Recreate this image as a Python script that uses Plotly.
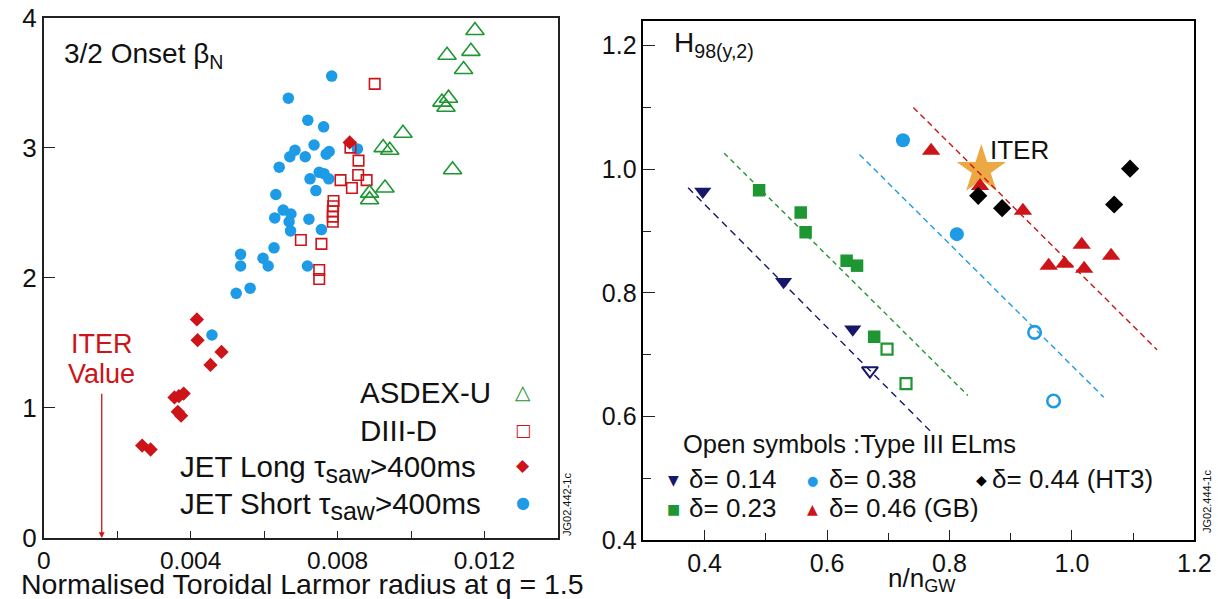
import plotly.graph_objects as go

# ---------------- Left panel data ----------------
jet_short_x = [0.00784, 0.00666, 0.00719, 0.00762, 0.00736, 0.00684, 0.00670, 0.00712, 0.00777,
               0.00769, 0.00854, 0.00641, 0.00750, 0.00763, 0.00725, 0.00776, 0.00741, 0.00632,
               0.00652, 0.00673, 0.00629, 0.00668, 0.00672, 0.00722, 0.00756, 0.00627, 0.00536,
               0.00536, 0.00597, 0.00611, 0.00718, 0.00524, 0.00562, 0.00458]
jet_short_y = [3.55, 3.38, 3.21, 3.16, 3.02, 2.98, 2.93, 2.93, 2.97,
               2.95, 2.99, 2.85, 2.81, 2.80, 2.76, 2.76, 2.67, 2.64,
               2.52, 2.49, 2.46, 2.43, 2.36, 2.45, 2.37, 2.23, 2.18,
               2.09, 2.15, 2.09, 2.09, 1.88, 1.92, 1.56]

diiid_x = [0.00901, 0.00835, 0.00857, 0.00856, 0.00879, 0.00808, 0.00839, 0.00789,
           0.00788, 0.00787, 0.00787, 0.00787, 0.00700, 0.00756, 0.00750, 0.00750]
diiid_y = [3.49, 3.00, 2.90, 2.79, 2.75, 2.75, 2.69, 2.59,
           2.55, 2.51, 2.47, 2.43, 2.29, 2.26, 2.06, 1.99]

asdex_x = [0.01174, 0.01098, 0.01163, 0.01143, 0.01102, 0.01084, 0.01095, 0.00978,
           0.00924, 0.00942, 0.01113, 0.00929, 0.00887, 0.00887]
asdex_y = [3.90, 3.71, 3.74, 3.60, 3.38, 3.35, 3.31, 3.11,
           3.00, 2.98, 2.83, 2.69, 2.65, 2.60]

jet_long_x = [0.00833, 0.00417, 0.00419, 0.00484, 0.00454, 0.00356, 0.00368, 0.00381,
              0.00365, 0.00374, 0.00268, 0.00291]
jet_long_y = [3.04, 1.68, 1.52, 1.43, 1.33, 1.08, 1.09, 1.11,
              0.97, 0.94, 0.71, 0.68]

iter_rho = 0.00158

# ---------------- Right panel data ----------------
d014_x = [0.397, 0.529, 0.642]
d014_y = [0.964, 0.818, 0.741]
d014_open_x = [0.670]
d014_open_y = [0.674]

d023_x = [0.489, 0.557, 0.565, 0.632, 0.649, 0.677]
d023_y = [0.966, 0.930, 0.898, 0.852, 0.844, 0.729]
d023_open_x = [0.698, 0.729]
d023_open_y = [0.709, 0.653]

d038_x = [0.724, 0.812]
d038_y = [1.047, 0.895]
d038_open_x = [0.939, 0.970]
d038_open_y = [0.736, 0.625]

d046_x = [0.770, 0.850, 0.920, 1.016, 1.064, 0.962, 0.988, 1.020]
d046_y = [1.030, 0.973, 0.933, 0.878, 0.860, 0.844, 0.847, 0.839]

d044_x = [0.847, 0.886, 1.069, 1.095]
d044_y = [0.957, 0.937, 0.943, 1.001]

iter_x = [0.852]
iter_y = [0.999]

fit014_x = [0.373, 0.770]
fit014_y = [0.970, 0.575]
fit023_x = [0.432, 0.830]
fit023_y = [1.026, 0.634]
fit038_x = [0.653, 1.052]
fit038_y = [1.024, 0.631]
fit046_x = [0.741, 1.139]
fit046_y = [1.100, 0.708]

# ---------------- Styles ----------------
RED = "#CC1419"
BLUE = "#1E9BE6"
GREEN = "#1E9632"
NAVY = "#16166A"
STAR = "#EBA843"
FONT = "Liberation Sans, Arial, Helvetica, sans-serif"
SYMFONT = "DejaVu Sans, sans-serif"
W, H = 1218, 599


def px(x):
    return x / W


def py(y):
    return 1 - y / H


fig = go.Figure()

# Left panel traces
fig.add_trace(go.Scatter(x=jet_short_x, y=jet_short_y, mode="markers", xaxis="x", yaxis="y",
                         marker=dict(symbol="circle", size=11.5, color=BLUE, line=dict(width=0))))
fig.add_trace(go.Scatter(x=diiid_x, y=diiid_y, mode="markers", xaxis="x", yaxis="y",
                         marker=dict(symbol="square-open", size=10.5, color=RED, line=dict(width=1.6, color=RED))))
fig.add_trace(go.Scatter(x=asdex_x, y=asdex_y, mode="markers", xaxis="x", yaxis="y",
                         marker=dict(symbol="triangle-up-open", size=16, color=GREEN, line=dict(width=1.6, color=GREEN))))
fig.add_trace(go.Scatter(x=jet_long_x, y=jet_long_y, mode="markers", xaxis="x", yaxis="y",
                         marker=dict(symbol="diamond", size=11, color=RED, line=dict(width=0))))

# Right panel traces
fig.add_trace(go.Scatter(x=iter_x, y=iter_y, mode="markers", xaxis="x2", yaxis="y2",
                         marker=dict(symbol="star", size=37, color=STAR, line=dict(width=0))))
for fx, fy, c, d in [(fit014_x, fit014_y, NAVY, "7px,5px"), (fit023_x, fit023_y, GREEN, "5px,4px"),
                     (fit038_x, fit038_y, BLUE, "6px,4px"), (fit046_x, fit046_y, RED, "6px,4px")]:
    fig.add_trace(go.Scatter(x=fx, y=fy, mode="lines", xaxis="x2", yaxis="y2",
                             line=dict(color=c, width=1.4, dash=d)))

fig.add_trace(go.Scatter(x=d014_x, y=d014_y, mode="markers", xaxis="x2", yaxis="y2",
                         marker=dict(symbol="triangle-down", size=15, color=NAVY, line=dict(width=0))))
fig.add_trace(go.Scatter(x=d014_open_x, y=d014_open_y, mode="markers", xaxis="x2", yaxis="y2",
                         marker=dict(symbol="triangle-down-open", size=14, color=NAVY, line=dict(width=2, color=NAVY))))
fig.add_trace(go.Scatter(x=d023_x, y=d023_y, mode="markers", xaxis="x2", yaxis="y2",
                         marker=dict(symbol="square", size=12.5, color=GREEN, line=dict(width=0))))
fig.add_trace(go.Scatter(x=d023_open_x, y=d023_open_y, mode="markers", xaxis="x2", yaxis="y2",
                         marker=dict(symbol="square-open", size=11, color=GREEN, line=dict(width=2.2, color=GREEN))))
fig.add_trace(go.Scatter(x=d038_x, y=d038_y, mode="markers", xaxis="x2", yaxis="y2",
                         marker=dict(symbol="circle", size=14, color=BLUE, line=dict(width=0))))
fig.add_trace(go.Scatter(x=d038_open_x, y=d038_open_y, mode="markers", xaxis="x2", yaxis="y2",
                         marker=dict(symbol="circle-open", size=12.5, color=BLUE, line=dict(width=2.6, color=BLUE))))
fig.add_trace(go.Scatter(x=d046_x, y=d046_y, mode="markers", xaxis="x2", yaxis="y2",
                         marker=dict(symbol="triangle-up", size=16, color=RED, line=dict(width=0))))
fig.add_trace(go.Scatter(x=d044_x, y=d044_y, mode="markers", xaxis="x2", yaxis="y2",
                         marker=dict(symbol="diamond", size=14, color="#000000", line=dict(width=0))))

axis_common = dict(showgrid=False, zeroline=False, showline=True, mirror=True, automargin=False,
                   ticks="inside", tickcolor="#222", linecolor="#222", linewidth=1.6,
                   tickwidth=1.4)

fig.update_layout(
    width=W, height=H, margin=dict(l=0, r=0, t=0, b=0, autoexpand=False),
    paper_bgcolor="white", plot_bgcolor="white", showlegend=False, hovermode=False,
    font=dict(family=FONT, color="#111"),
    xaxis=dict(domain=[px(43.7), px(558)], range=[0, 0.014], dtick=0.004, tick0=0,
               ticklen=7, tickfont=dict(size=24.5), anchor="y",
               minor=dict(dtick=0.002, tick0=0, ticks="inside", ticklen=7, tickcolor="#222"),
               **axis_common),
    yaxis=dict(domain=[py(538), py(17.5)], range=[0, 4], dtick=1, tick0=0,
               ticklen=11, tickfont=dict(size=26), anchor="x", **axis_common),
    xaxis2=dict(domain=[px(643.4), px(1194.4)], range=[0.3, 1.2001], dtick=0.2, tick0=0.4,
                tickformat=".1f", ticklen=10, tickfont=dict(size=25), anchor="y2",
                minor=dict(dtick=0.1, tick0=0.3, ticks="inside", ticklen=7, tickcolor="#222"),
                **axis_common),
    yaxis2=dict(domain=[py(540), py(21)], range=[0.4, 1.24], dtick=0.2, tick0=0.4,
                tickformat=".1f", ticklen=12, tickfont=dict(size=25), anchor="x2",
                minor=dict(dtick=0.1, tick0=0.4, ticks="inside", ticklen=8, tickcolor="#222"),
                **axis_common),
)
fig.update_layout(xaxis2_linecolor="#000", yaxis2_linecolor="#000")

ann = []


def text(x, y, s, size, color="#111", xanchor="left", yanchor="middle", family=FONT, **kw):
    ann.append(dict(x=px(x), y=py(y), xref="paper", yref="paper", text=s, showarrow=False,
                    xanchor=xanchor, yanchor=yanchor, font=dict(size=size, color=color, family=family), **kw))


SAW = "τ<sub><span style='font-size:25px'>saw</span></sub>"

# Left panel texts
text(62, 56, "3/2 Onset β<sub>N</sub>", 28)
text(302, 601, "Normalised Toroidal Larmor radius at q = 1.5", 28.5, xanchor="center", yanchor="bottom",
     borderpad=0)
leg_rows = [(392, "ASDEX-U", "△", GREEN, 358, 20),
            (430, "DIII-D", "□", RED, 358, 17),
            (469, "JET Long " + SAW + "&gt;400ms", "◆", RED, 178, 17),
            (506, "JET Short " + SAW + "&gt;400ms", "●", BLUE, 178, 16)]
for yy, label, sym, col, x0, ssz in leg_rows:
    text(x0, yy, label, 29.5)
    text(523.2, yy if yy < 450 else yy - 4, sym, ssz, color=col, xanchor="center", family=SYMFONT)
text(567, 505, "JG02.442-1c", 11, textangle=-90, xanchor="center")

# ITER value arrow and label (data coordinates)
ann.append(dict(x=iter_rho, y=0, xref="x", yref="y", ax=iter_rho, ay=1.12, axref="x", ayref="y",
                showarrow=True, arrowhead=2, arrowsize=0.9, arrowwidth=1.3, arrowcolor=RED, text=""))
ann.append(dict(x=iter_rho, y=1.493, xref="x", yref="y", text="ITER", showarrow=False,
                font=dict(size=27, color=RED, family=FONT), xanchor="center", yanchor="middle"))
ann.append(dict(x=iter_rho, y=1.263, xref="x", yref="y", text="Value", showarrow=False,
                font=dict(size=27, color=RED, family=FONT), xanchor="center", yanchor="middle"))

# Right panel texts
text(672, 44, "H<sub>98(y,2)</sub>", 28)
ann.append(dict(x=0.8634, y=1.032, xref="x2", yref="y2", text="ITER", showarrow=False,
                font=dict(size=26, color="#111", family=FONT), xanchor="left", yanchor="middle"))
text(680.8, 444, "Open symbols :Type III ELms", 25.5)
r1, r2 = 479.3, 507.7
text(673.7, r1 + 1, "▼", 14, color=NAVY, xanchor="center", family=SYMFONT)
text(686.7, r1, "δ= 0.14", 26)
text(812, r1 + 1, "●", 13, color=BLUE, xanchor="center", family=SYMFONT)
text(826.6, r1, "δ= 0.38", 26)
text(981, r1 + 1, "◆", 14, color="#000", xanchor="center", family=SYMFONT)
text(990.2, r1, "δ= 0.44 (HT3)", 26)
text(673.7, r2 + 1, "■", 14, color=GREEN, xanchor="center", family=SYMFONT)
text(686.7, r2, "δ= 0.23", 26)
text(812, r2 + 1, "▲", 14, color=RED, xanchor="center", family=SYMFONT)
text(826.6, r2, "δ= 0.46 (GB)", 26)
text(922, 598, "n/n<sub>GW</sub>", 26, xanchor="center", yanchor="bottom")
text(1207, 502, "JG02.444-1c", 11, textangle=-90, xanchor="center")

fig.update_layout(annotations=ann)
fig.write_html("out.html", config={"displayModeBar": False},
               post_script="document.body.style.margin='0';document.body.style.overflow='hidden';")
